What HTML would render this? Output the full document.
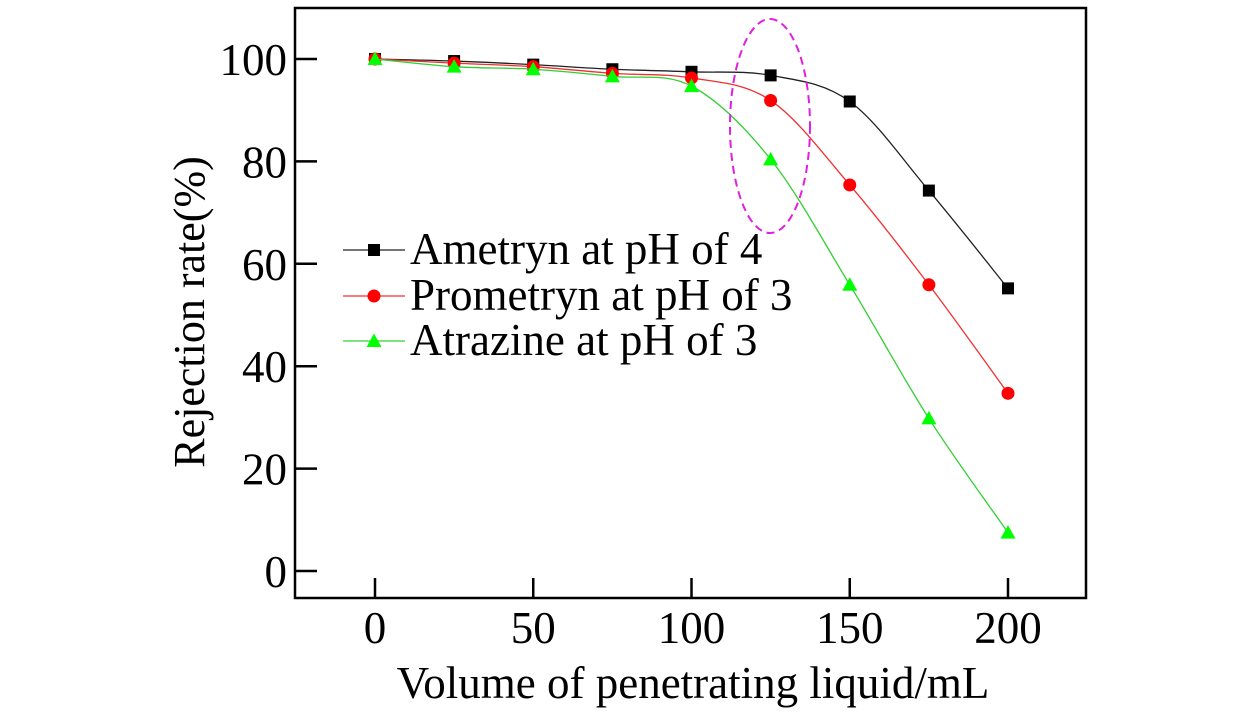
<!DOCTYPE html>
<html><head><meta charset="utf-8"><style>
html,body{margin:0;padding:0;background:#fff;}
svg text{font-family:"Liberation Serif",serif;fill:#000;}
</style></head><body>
<svg id="chart" width="1260" height="709" viewBox="0 0 1260 709" xmlns="http://www.w3.org/2000/svg">
<rect x="295" y="8" width="791" height="590" fill="none" stroke="#000" stroke-width="2.5"/>
<g id="ticks"></g>
<g id="series"></g>
<ellipse cx="770" cy="126" rx="40" ry="107" fill="none" stroke="#e020e0" stroke-width="2" stroke-dasharray="8,5"/>
<text x="693" y="698" font-size="45" text-anchor="middle">Volume of penetrating liquid/mL</text>
<text transform="translate(204,312) rotate(-90)" font-size="44" text-anchor="middle">Rejection rate(%)</text>
<g id="legend"></g>
</svg>
<script>
const categories=[0,25,50,75,100,125,150,175,200];
const ametryn=[100,99.6,98.9,98,97.5,96.8,91.7,74.3,55.2];
const prometryn=[100,99.2,98.5,97.2,96.3,91.9,75.4,55.9,34.7];
const atrazine=[100,98.5,98,96.6,94.7,80.4,55.9,29.8,7.5];
const xTicks=[0,50,100,150,200];
const yTicks=[0,20,40,60,80,100];
const seriesNames=["Ametryn at pH of 4","Prometryn at pH of 3","Atrazine at pH of 3"];

const NS="http://www.w3.org/2000/svg";
function X(v){return 375+v*(1008-375)/200;}
function Y(v){return 571-v*5.12;}
function mk(tag,attrs,parent){const e=document.createElementNS(NS,tag);for(const k in attrs)e.setAttribute(k,attrs[k]);parent.appendChild(e);return e;}
const tg=document.getElementById('ticks');
xTicks.forEach(v=>{
  const l=mk('line',{x1:X(v),x2:X(v),y1:598,y2:578,stroke:'#000','stroke-width':2.5},tg);
  
  
  const t=mk('text',{x:X(v),y:643,'font-size':45,'text-anchor':'middle'},tg);
  t.textContent=v;
  
  
});
yTicks.forEach(v=>{
  const l=mk('line',{x1:295,x2:317,y1:Y(v),y2:Y(v),stroke:'#000','stroke-width':2.5},tg);
  
  
  const t=mk('text',{x:287,y:Y(v)+16,'font-size':45,'text-anchor':'end'},tg);
  t.textContent=v;
  
  
});
function smooth(pts){
  let d=`M${pts[0][0]},${pts[0][1]}`;
  for(let i=0;i<pts.length-1;i++){
    const p0=pts[Math.max(0,i-1)],p1=pts[i],p2=pts[i+1],p3=pts[Math.min(pts.length-1,i+2)];
    const c1=[p1[0]+(p2[0]-p0[0])/6,p1[1]+(p2[1]-p0[1])/6];
    const c2=[p2[0]-(p3[0]-p1[0])/6,p2[1]-(p3[1]-p1[1])/6];
    d+=` C${c1[0]},${c1[1]} ${c2[0]},${c2[1]} ${p2[0]},${p2[1]}`;
  }
  return d;
}
function marker(type,x,y,color,parent){
  let e;
  if(type==='sq') e=mk('rect',{x:x-6,y:y-6,width:12,height:12,fill:color},parent);
  else if(type==='ci') e=mk('circle',{cx:x,cy:y,r:6.5,fill:color},parent);
  else e=mk('polygon',{points:`${x},${y-7.5} ${x-7.5},${y+6} ${x+7.5},${y+6}`,fill:color},parent);
  return e;
}
const sg=document.getElementById('series');
const defs=[[ametryn,'#222','#000','sq'],[prometryn,'#f03030','#ff0000','ci'],[atrazine,'#30d030','#00ff00','tr']];
defs.forEach(([vals,lc,mc,type],si)=>{
  const pts=categories.map((c,i)=>[X(c),Y(vals[i])]);
  const p=mk('path',{d:smooth(pts),fill:'none',stroke:lc,'stroke-width':1.3},sg);
  
  
  pts.forEach(pt=>{
    const m=marker(type,pt[0],pt[1],mc,sg);
    
    
  });
});
const lg=document.getElementById('legend');
const ly=[250,296,341];
defs.forEach(([vals,lc,mc,type],i)=>{
  const l=mk('line',{x1:343,x2:405,y1:ly[i],y2:ly[i],stroke:lc,'stroke-width':1.3},lg);
  
  
  const m=marker(type,374,ly[i],mc,lg);
  
  
  const t=mk('text',{x:410,y:ly[i]+14,'font-size':45},lg);
  t.textContent=seriesNames[i];
  
  
});
</script>
</body></html>
